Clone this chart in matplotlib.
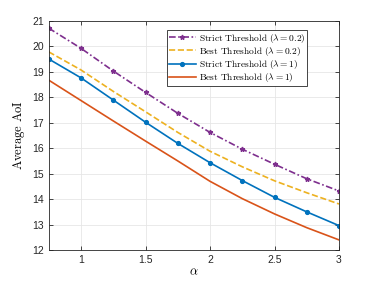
import matplotlib.pyplot as plt
import numpy as np

plt.rcParams['mathtext.fontset'] = 'cm'
plt.rcParams['font.family'] = ['Liberation Sans', 'DejaVu Sans']

# Data
alpha = [0.75, 1.0, 1.25, 1.5, 1.75, 2.0, 2.25, 2.5, 2.75, 3.0]
strict_02 = [20.71, 19.92, 19.03, 18.19, 17.37, 16.62, 15.96, 15.37, 14.80, 14.32]
best_02 = [19.78, 19.07, 18.23, 17.43, 16.62, 15.88, 15.27, 14.72, 14.25, 13.81]
strict_1 = [19.50, 18.76, 17.89, 17.02, 16.19, 15.43, 14.73, 14.07, 13.50, 12.96]
best_1 = [18.67, 17.87, 17.07, 16.28, 15.50, 14.70, 14.02, 13.42, 12.88, 12.40]

xticks = [1, 1.5, 2, 2.5, 3]
yticks = list(range(12, 22))

fig = plt.figure(figsize=(3.75, 2.81), dpi=100)
ax = fig.add_axes([0.13, 0.110, 0.774, 0.816])

ax.plot(alpha, strict_02, color='#7E2F8E', dashes=(4, 1.5, 1, 1.5), marker='*',
        markersize=3.5, linewidth=1.2,
        label=r'$\mathrm{Strict\ Threshold\ (\lambda = 0.2)}$')
ax.plot(alpha, best_02, '--', color='#EDB120', linewidth=1.2,
        label=r'$\mathrm{Best\ Threshold\ (\lambda = 0.2)}$')
ax.plot(alpha, strict_1, '-', color='#0072BD', marker='.', markersize=5.5, linewidth=1.2,
        label=r'$\mathrm{Strict\ Threshold\ (\lambda = 1)}$')
ax.plot(alpha, best_1, '-', color='#D95319', linewidth=1.2,
        label=r'$\mathrm{Best\ Threshold\ (\lambda = 1)}$')

ax.set_xlim(0.75, 3)
ax.set_ylim(12, 21)
ax.set_xticks(xticks)
ax.set_xticklabels(['1', '1.5', '2', '2.5', '3'])
ax.set_yticks(yticks)
ax.tick_params(direction='in', labelsize=7.5, length=3, width=0.6, colors='#262626',
               top=True, right=True, labeltop=False, labelright=False)
ax.grid(True, color='#e6e6e6', linewidth=0.6)
ax.set_axisbelow(True)
for s in ax.spines.values():
    s.set_color('#262626')
    s.set_linewidth(0.6)

ax.set_xlabel(r'$\alpha$', fontsize=9, labelpad=1)
ax.set_ylabel(r'$\mathrm{Average\ AoI}$', fontsize=9, labelpad=4)

leg = ax.legend(loc='upper right', bbox_to_anchor=(0.89, 0.959), fontsize=6.8,
                fancybox=False, framealpha=1, edgecolor='#262626',
                handlelength=2.9, handletextpad=0.3, borderpad=0.15,
                labelspacing=0.02, borderaxespad=0)
leg.get_frame().set_linewidth(0.6)

fig.savefig('out.png', dpi=100)
